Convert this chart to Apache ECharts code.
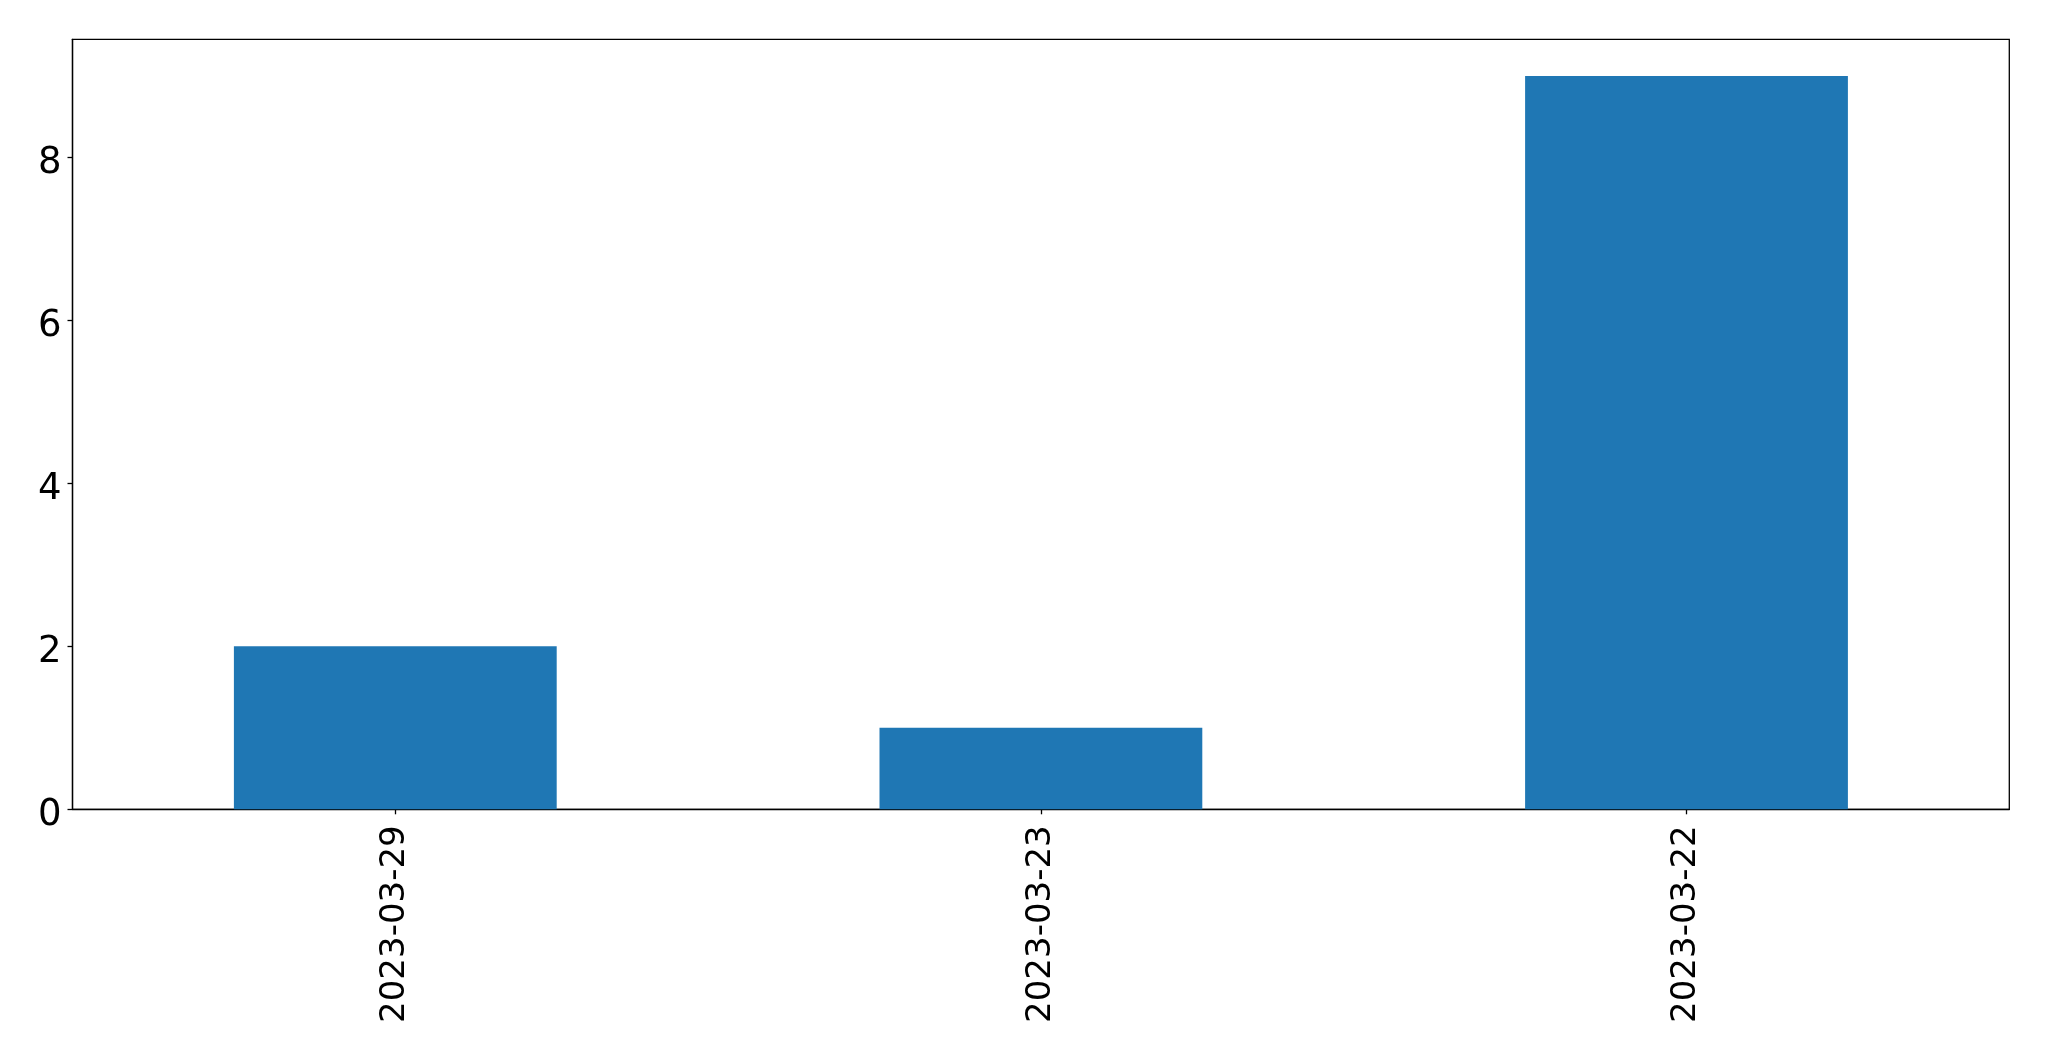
<!DOCTYPE html>
<html>
<head>
<meta charset="utf-8">
<script src="https://cdn.jsdelivr.net/npm/echarts@6/dist/echarts.min.js"></script>
<style>
html,body{margin:0;padding:0;background:#fff;}
#chart{width:2049px;height:1061px;}
</style>
</head>
<body>
<div id="chart"></div>
<script>
const categories = ['2023-03-29', '2023-03-23', '2023-03-22'];
const values = [2, 1, 9];
const yTicks = [0, 2, 4, 6, 8];

const chart = echarts.init(document.getElementById('chart'), null, {renderer: 'canvas'});
const font = 'DejaVu Sans';
chart.setOption({
  animation: false,
  backgroundColor: '#ffffff',
  grid: {
    left: 72.5, top: 39.3, right: 39.7, bottom: 251.7,
    show: true, borderColor: '#000', borderWidth: 1.3, backgroundColor: 'transparent'
  },
  xAxis: {
    type: 'category',
    data: categories,
    boundaryGap: true,
    axisLine: {show: true, lineStyle: {color: '#000', width: 1.3}},
    axisTick: {show: true, alignWithLabel: true, length: 5, lineStyle: {color: '#000', width: 1.3}},
    axisLabel: {rotate: 90, margin: 16, color: '#000', fontSize: 34, fontFamily: font}
  },
  yAxis: {
    type: 'value',
    min: 0, max: 9.45, interval: 2,
    splitLine: {show: false},
    axisLine: {show: true, lineStyle: {color: '#000', width: 1.3}},
    axisTick: {show: true, length: 5, customValues: yTicks, lineStyle: {color: '#000', width: 1.3}},
    axisLabel: {margin: 11, color: '#000', fontSize: 37, fontFamily: font, customValues: yTicks,
      verticalAlign: 'top', lineHeight: 12}
  },
  series: [{
    type: 'bar',
    data: values,
    barWidth: '50%',
    itemStyle: {color: '#1f77b4'}
  }]
});
</script>
</body>
</html>
